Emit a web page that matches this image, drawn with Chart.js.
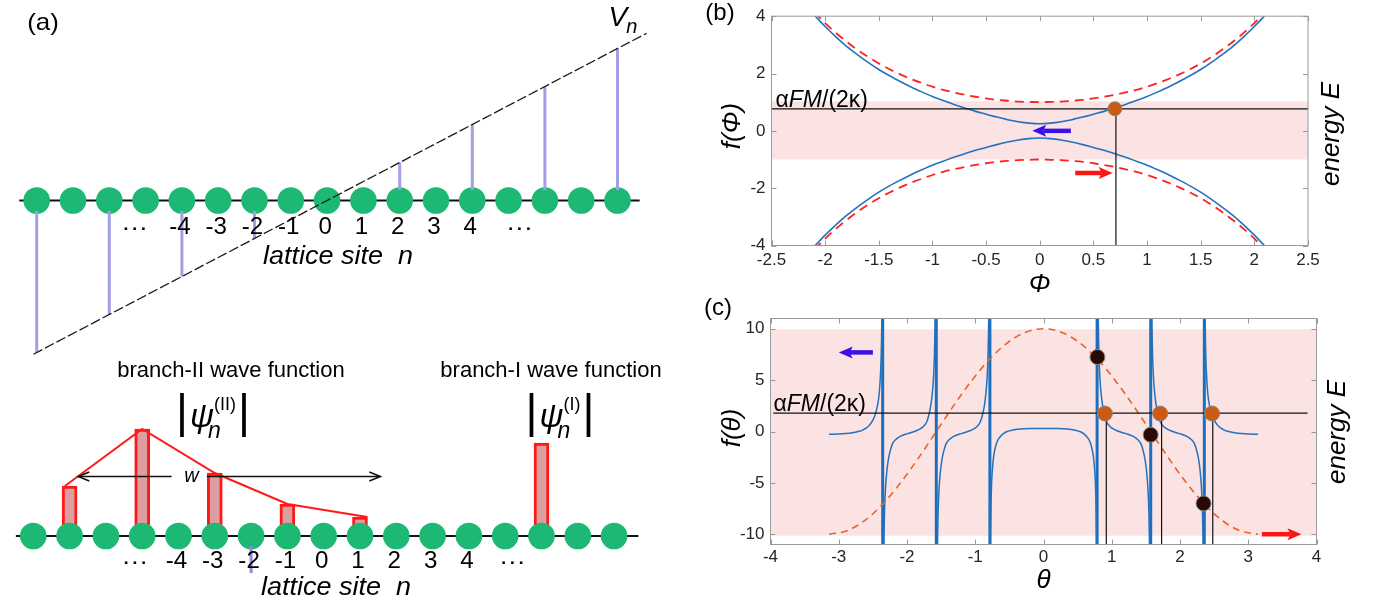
<!DOCTYPE html>
<html>
<head>
<meta charset="utf-8">
<script src="https://cdn.jsdelivr.net/npm/chart.js@4.4.1/dist/chart.umd.min.js"></script>
<style>
  html, body { margin:0; padding:0; background:#ffffff; }
  body { width:1376px; height:606px; position:relative; overflow:hidden; }
  canvas { position:absolute; }
</style>
</head>
<body>
<canvas id="chartA1" width="690" height="362" style="left:0px;top:0px;"></canvas>
<canvas id="chartA2" width="690" height="256" style="left:0px;top:350px;"></canvas>
<canvas id="chartB" width="676" height="300" style="left:700px;top:0px;"></canvas>
<canvas id="chartC" width="676" height="316" style="left:700px;top:290px;"></canvas>
<script>
// ================= DATA =================
// ---- panel (a): lattice, potential, wave functions ----
const latticeSites = [-8,-7,-6,-5,-4,-3,-2,-1,0,1,2,3,4,5,6,7,8];
const siteLabelValues = [-4,-3,-2,-1,0,1,2,3,4];
const siteLabels = ['-4','-3','-2','-1','0','1','2','3','4'];
const ellipsisSitesTop = [-5.3, 5.3];
const ellipsisSitesBottom = [-5.2, 5.2];
const potentialSites = [-8,-6,-4,-2,2,4,6,8];
const potentialValues = [-8,-6,-4,-2,2,4,6,8];
const potentialLineSites = [-8.09, 8.8];
const potentialLineValues = [-8.09, 8.8];
const rowSpanTop = [-8.48, 8.61];
const rowSpanBottom = [-8.48, 8.67];
const branch2Sites = [-7,-5,-3,-1,1];
const branch2Amplitude = [0.50,1.07,0.63,0.32,0.19];
const branch1Sites = [6];
const branch1Amplitude = [0.93];
const envelopeSites = [-7.13,-5,-3,-1,1.2];
const envelopeAmplitude = [0.50,1.07,0.63,0.32,0.19];
const widthArrowSites = [-6.76, -4.19, -3.22, 1.56];
const widthArrowLevel = 0.595;
const widthLabelSite = -3.64;
const strayStemSite = [-2];
const strayStemRange = [-0.10, -0.37];
const vLabelSite = 8.15;

// ---- panel (b) ----
const phiGrid = [-2.1,-2.0,-1.9,-1.8,-1.7,-1.6,-1.5,-1.4,-1.3,-1.2,-1.1,-1.0,-0.9,-0.8,-0.7,-0.6,-0.5,-0.4,-0.3,-0.2,-0.1,0,0.1,0.2,0.3,0.4,0.5,0.6,0.7,0.8,0.9,1.0,1.1,1.2,1.3,1.4,1.5,1.6,1.7,1.8,1.9,2.0,2.1];
const fBlueUpper = [4.03,3.64,3.28,2.95,2.66,2.39,2.14,1.92,1.72,1.53,1.36,1.20,1.06,0.92,0.80,0.68,0.58,0.48,0.39,0.32,0.27,0.25,0.27,0.32,0.39,0.48,0.58,0.68,0.80,0.92,1.06,1.20,1.36,1.53,1.72,1.92,2.14,2.39,2.66,2.95,3.28,3.64,4.03];
const fBlueLower = [-4.03,-3.64,-3.28,-2.95,-2.66,-2.39,-2.14,-1.92,-1.72,-1.53,-1.36,-1.20,-1.06,-0.92,-0.80,-0.68,-0.58,-0.48,-0.39,-0.32,-0.27,-0.25,-0.27,-0.32,-0.39,-0.48,-0.58,-0.68,-0.80,-0.92,-1.06,-1.20,-1.36,-1.53,-1.72,-1.92,-2.14,-2.39,-2.66,-2.95,-3.28,-3.64,-4.03];
const fRedUpper = [4.14,3.76,3.42,3.11,2.83,2.58,2.35,2.15,1.97,1.81,1.67,1.54,1.43,1.34,1.26,1.19,1.13,1.08,1.05,1.02,1.01,1.00,1.01,1.02,1.05,1.08,1.13,1.19,1.26,1.34,1.43,1.54,1.67,1.81,1.97,2.15,2.35,2.58,2.83,3.11,3.42,3.76,4.14];
const fRedLower = [-4.14,-3.76,-3.42,-3.11,-2.83,-2.58,-2.35,-2.15,-1.97,-1.81,-1.67,-1.54,-1.43,-1.34,-1.26,-1.19,-1.13,-1.08,-1.05,-1.02,-1.01,-1.00,-1.01,-1.02,-1.05,-1.08,-1.13,-1.19,-1.26,-1.34,-1.43,-1.54,-1.67,-1.81,-1.97,-2.15,-2.35,-2.58,-2.83,-3.11,-3.42,-3.76,-4.14];
const phiTicks = [-2.5,-2,-1.5,-1,-0.5,0,0.5,1,1.5,2,2.5];
const fPhiTicks = [-4,-2,0,2,4];
const phiRange = [-2.5, 2.5];
const fPhiRange = [-4, 4];
const bandB = [-1.0, 1.03];
const levelB = 0.77;
const crossingPhi = [0.70];
const crossingF = [0.77];
const dropPhiB = 0.71;
const arrowsB = [ {x0:0.29, y0:0, x1:-0.07, y1:0}, {x0:0.33, y0:-1.47, x1:0.68, y1:-1.47} ];

// ---- panel (c) ----
const thetaDashed = [-3.1416,-2.8798,-2.618,-2.3562,-2.0944,-1.8326,-1.5708,-1.309,-1.0472,-0.7854,-0.5236,-0.2618,0,0.2618,0.5236,0.7854,1.0472,1.309,1.5708,1.8326,2.0944,2.3562,2.618,2.8798,3.1416];
const fDashed = [-10,-9.66,-8.66,-7.07,-5.0,-2.59,0,2.59,5.0,7.07,8.66,9.66,10,9.66,8.66,7.07,5.0,2.59,0,-2.59,-5.0,-7.07,-8.66,-9.66,-10];
const poleTheta = [-2.3562,-1.5708,-0.7854,0.7854,1.5708,2.3562];
const segAtheta = [-3.1416,-3.0,-2.9,-2.8,-2.7,-2.65,-2.6,-2.55,-2.5,-2.46,-2.43,-2.41,-2.395,-2.38,-2.37,-2.363,-2.359];
const segAf = [-0.27,-0.25,-0.2,-0.12,0.02,0.14,0.32,0.62,1.1,1.78,2.6,3.5,4.8,7,10.5,17,30];
const segBtheta = [-2.3525,-2.3465,-2.3385,-2.3285,-2.3135,-2.2935,-2.2735,-2.2535,-2.2135,-2.1635,-2.1135,-2.0635,-2.0135,-1.9635,-1.9135,-1.8635,-1.8135,-1.7635,-1.7135,-1.6735,-1.6535,-1.6335,-1.6135,-1.5985,-1.5885,-1.5805,-1.5745];
const segBf = [-30.15,-17.15,-11.15,-7.65,-5.35,-3.75,-2.75,-2.08,-1.2,-0.77,-0.53,-0.37,-0.25,-0.15,-0.05,0.07,0.23,0.47,0.9,1.78,2.45,3.45,5.05,7.35,10.85,16.85,29.85];
const segCtheta = [-1.5671,-1.5611,-1.5531,-1.5431,-1.5281,-1.5081,-1.4881,-1.4681,-1.4281,-1.3781,-1.3281,-1.2781,-1.2281,-1.1781,-1.1281,-1.0781,-1.0281,-0.9781,-0.9281,-0.8881,-0.8681,-0.8481,-0.8281,-0.8131,-0.8031,-0.7951,-0.7891];
const segCf = [-30.15,-17.15,-11.15,-7.65,-5.35,-3.75,-2.75,-2.08,-1.2,-0.77,-0.53,-0.37,-0.25,-0.15,-0.05,0.07,0.23,0.47,0.9,1.78,2.45,3.45,5.05,7.35,10.85,16.85,29.85];
const segDtheta = [-0.7835,-0.780,-0.775,-0.765,-0.75,-0.73,-0.70,-0.67,-0.62,-0.55,-0.45,-0.35,-0.2,0,0.2,0.35,0.45,0.55,0.62,0.67,0.70,0.73,0.75,0.765,0.775,0.780,0.7835];
const segDf = [-30,-16,-10,-6,-3.8,-2.4,-1.4,-0.85,-0.4,-0.05,0.15,0.24,0.29,0.3,0.29,0.24,0.15,-0.05,-0.4,-0.85,-1.4,-2.4,-3.8,-6,-10,-16,-30];
const segEtheta = [0.7891,0.7951,0.8031,0.8131,0.8281,0.8481,0.8681,0.8881,0.9281,0.9781,1.0281,1.0781,1.1281,1.1781,1.2281,1.2781,1.3281,1.3781,1.4281,1.4681,1.4881,1.5081,1.5281,1.5431,1.5531,1.5611,1.5671];
const segEf = [29.85,16.85,10.85,7.35,5.05,3.45,2.45,1.78,0.9,0.47,0.23,0.07,-0.05,-0.15,-0.25,-0.37,-0.53,-0.77,-1.2,-2.08,-2.75,-3.75,-5.35,-7.65,-11.15,-17.15,-30.15];
const segFtheta = [1.5745,1.5805,1.5885,1.5985,1.6135,1.6335,1.6535,1.6735,1.7135,1.7635,1.8135,1.8635,1.9135,1.9635,2.0135,2.0635,2.1135,2.1635,2.2135,2.2535,2.2735,2.2935,2.3135,2.3285,2.3385,2.3465,2.3525];
const segFf = [29.85,16.85,10.85,7.35,5.05,3.45,2.45,1.78,0.9,0.47,0.23,0.07,-0.05,-0.15,-0.25,-0.37,-0.53,-0.77,-1.2,-2.08,-2.75,-3.75,-5.35,-7.65,-11.15,-17.15,-30.15];
const segGtheta = [2.359,2.363,2.37,2.38,2.395,2.41,2.43,2.46,2.5,2.55,2.6,2.65,2.7,2.8,2.9,3.0,3.1416];
const segGf = [30,17,10.5,7,4.8,3.5,2.6,1.78,1.1,0.62,0.32,0.14,0.02,-0.12,-0.2,-0.25,-0.27];
const thetaTicks = [-4,-3,-2,-1,0,1,2,3,4];
const fThetaTicks = [-10,-5,0,5,10];
const thetaRange = [-4, 4];
const fThetaRange = [-11, 11];
const bandC = [-10.15, 9.95];
const levelC = 1.78;
const levelCSpan = [-3.96, 3.87];
const crossTheta = [0.90, 1.71, 2.47];
const crossF = [1.75, 1.75, 1.75];
const dropTheta = [0.92, 1.73, 2.48];
const resonanceTheta = [0.79, 1.57, 2.345];
const resonanceF = [7.25, -0.32, -7.0];
const arrowsC = [ {x0:-2.5, y0:7.7, x1:-3.0, y1:7.7}, {x0:3.2, y0:-10, x1:3.78, y1:-10} ];

// ================= HELPERS =================
const FONT = "'Liberation Sans', Arial, Helvetica, sans-serif";
Chart.defaults.font.family = FONT;
Chart.defaults.animation = false;
Chart.defaults.events = [];
Chart.defaults.plugins.legend.display = false;
Chart.defaults.plugins.tooltip.enabled = false;

const pts = (xs, ys) => xs.map((x, i) => ({x, y: ys[i]}));

function txt(ctx, s, x, y, o = {}) {
  ctx.save();
  ctx.font = (o.italic ? 'italic ' : '') + (o.size || 20) + 'px ' + FONT;
  ctx.fillStyle = o.color || '#000';
  ctx.textAlign = o.align || 'center';
  ctx.textBaseline = o.baseline || 'middle';
  ctx.translate(x, y);
  if (o.rotate) ctx.rotate(o.rotate);
  if (o.sx) ctx.scale(o.sx, 1);
  ctx.fillText(s, 0, 0);
  ctx.restore();
}

function rich(ctx, parts, x, y, align) {
  ctx.save();
  ctx.textBaseline = 'alphabetic';
  ctx.textAlign = 'left';
  let cx = 0, pend = -Infinity;
  const items = [];
  for (const p of parts) {
    ctx.font = (p.italic ? 'italic ' : '') + p.size + 'px ' + FONT;
    const w = ctx.measureText(p.t).width;
    const px = cx + (p.dx || 0);
    items.push({p, x: px});
    if (p.stack) { pend = Math.max(pend, px + w); }
    else { cx = Math.max(px + w, pend); pend = -Infinity; }
  }
  const x0 = align === 'center' ? x - cx / 2 : (align === 'right' ? x - cx : x);
  for (const it of items) {
    ctx.font = (it.p.italic ? 'italic ' : '') + it.p.size + 'px ' + FONT;
    ctx.fillStyle = it.p.color || '#000';
    ctx.fillText(it.p.t, x0 + it.x, y + (it.p.dy || 0));
  }
  ctx.restore();
}

function solidArrow(ctx, x0, y0, x1, y1, color, lw, headLen, headHalf) {
  const a = Math.atan2(y1 - y0, x1 - x0);
  const c = Math.cos(a), s = Math.sin(a);
  const bx = x1 - headLen * c, by = y1 - headLen * s;
  ctx.save();
  ctx.strokeStyle = color; ctx.fillStyle = color; ctx.lineWidth = lw; ctx.lineCap = 'butt';
  ctx.beginPath(); ctx.moveTo(x0, y0); ctx.lineTo(bx + 3 * c, by + 3 * s); ctx.stroke();
  ctx.beginPath();
  ctx.moveTo(x1, y1);
  ctx.lineTo(bx - headHalf * s, by + headHalf * c);
  ctx.lineTo(bx + 3 * c, by + 3 * s);
  ctx.lineTo(bx + headHalf * s, by - headHalf * c);
  ctx.closePath(); ctx.fill();
  ctx.restore();
}

function openHead(ctx, x, y, dir) {
  ctx.beginPath();
  ctx.moveTo(x - dir * 11, y - 4.5);
  ctx.lineTo(x, y);
  ctx.lineTo(x - dir * 11, y + 4.5);
  ctx.stroke();
}

const framePlugin = {
  id: 'frame',
  afterDatasetsDraw(chart) {
    const {ctx, chartArea: a, scales: {x, y}} = chart;
    ctx.save();
    ctx.strokeStyle = '#9a9a9a';
    ctx.lineWidth = 1;
    ctx.strokeRect(a.left, a.top, a.right - a.left, a.bottom - a.top);
    const L = 5;
    ctx.beginPath();
    x.ticks.forEach(t => {
      const px = Math.round(x.getPixelForValue(t.value)) + 0.5;
      ctx.moveTo(px, a.bottom); ctx.lineTo(px, a.bottom - L);
      ctx.moveTo(px, a.top); ctx.lineTo(px, a.top + L);
    });
    y.ticks.forEach(t => {
      const py = Math.round(y.getPixelForValue(t.value)) + 0.5;
      ctx.moveTo(a.left, py); ctx.lineTo(a.left + L, py);
      ctx.moveTo(a.right, py); ctx.lineTo(a.right - L, py);
    });
    ctx.stroke();
    ctx.restore();
  }
};

function axisOpts(range, ticks, fit, pad) {
  return {
    type: 'linear', min: range[0], max: range[1],
    grid: {display: false, drawTicks: false, tickLength: 0}, border: {display: false},
    ticks: {font: {size: 17}, color: '#262626', padding: pad, autoSkip: false, maxRotation: 0,
            callback: v => String(v)},
    afterBuildTicks: s => { s.ticks = ticks.map(v => ({value: v})); },
    afterFit: fit
  };
}

const lineDs = (data, color, width, order, extra = {}) => Object.assign({
  data, showLine: true, borderColor: color, borderWidth: width, pointRadius: 0,
  pointHoverRadius: 0, fill: false, order
}, extra);

// ================= PANEL (a) top =================
const stemStart = 0.55;
const stemPoints = [];
potentialSites.forEach((n, i) => {
  const v = potentialValues[i];
  stemPoints.push({x: n, y: Math.sign(v) * stemStart}, {x: n, y: v}, {x: n, y: null});
});

new Chart(document.getElementById('chartA1'), {
  type: 'scatter',
  data: {datasets: [
    lineDs(pts(potentialLineSites, potentialLineValues), '#1a1a1a', 1.3, 0, {borderDash: [10, 3]}),
    lineDs(stemPoints, '#a29fe6', 3, 1, {spanGaps: false}),
    {data: latticeSites.map(n => ({x: n, y: 0})), pointRadius: 13.3, pointHoverRadius: 13.3,
     pointBackgroundColor: '#1db874', pointBorderWidth: 0, showLine: false, order: 2},
    lineDs(pts(rowSpanTop, [0, 0]), '#111111', 2, 3)
  ]},
  options: {
    responsive: false, devicePixelRatio: 1, layout: {padding: 0, autoPadding: false},
    scales: {x: {type: 'linear', display: false, min: -9.011, max: 9.997},
             y: {type: 'linear', display: false, min: -8.5, max: 10.553}}
  },
  plugins: [{
    id: 'labelsA1',
    afterDraw(chart) {
      const {ctx, scales: {x, y}} = chart;
      const base = y.getPixelForValue(0);
      txt(ctx, '(a)', 43, 23, {size: 24, sx: 1.08});
      siteLabelValues.forEach((n, i) => txt(ctx, siteLabels[i], x.getPixelForValue(n) - 2, base + 27.5, {size: 23, sx: 1.05}));
      ellipsisSitesTop.forEach(n => txt(ctx, '\u00B7\u00B7\u00B7', x.getPixelForValue(n), base + 27.5, {size: 24, sx: 1.1}));
      txt(ctx, 'lattice site  n', 338, base + 56.5, {size: 25, italic: true, sx: 1.08});
      rich(ctx, [{t: 'V', size: 28, italic: true}, {t: 'n', size: 20, italic: true, dy: 7, dx: -1}],
           x.getPixelForValue(vLabelSite), 26, 'center');
    }
  }]
});

// ================= PANEL (a) bottom =================
new Chart(document.getElementById('chartA2'), {
  type: 'bar',
  data: {datasets: [
    {type: 'line', data: [{x: strayStemSite[0], y: strayStemRange[0]}, {x: strayStemSite[0], y: strayStemRange[1]}],
     borderColor: '#8f8be0', borderWidth: 3, pointRadius: 0, order: 0},
    {type: 'line', data: pts(envelopeSites, envelopeAmplitude), borderColor: '#ff1a1a', borderWidth: 2,
     pointRadius: 0, tension: 0, order: 1},
    {type: 'line', data: latticeSites.map(n => ({x: n, y: 0})), showLine: false, pointRadius: 13.3,
     pointHoverRadius: 13.3, pointBackgroundColor: '#1db874', pointBorderWidth: 0, order: 2},
    {type: 'bar', data: pts(branch2Sites, branch2Amplitude), backgroundColor: '#dc9e9e', borderColor: '#ff1a1a',
     borderWidth: 3, borderSkipped: false, barThickness: 15, grouped: false, order: 3},
    {type: 'bar', data: pts(branch1Sites, branch1Amplitude), backgroundColor: '#dc9e9e', borderColor: '#ff1a1a',
     borderWidth: 3, borderSkipped: false, barThickness: 15, grouped: false, order: 3},
    {type: 'line', data: pts(rowSpanBottom, [0, 0]), borderColor: '#111111', borderWidth: 2, pointRadius: 0, order: 5}
  ]},
  options: {
    responsive: false, devicePixelRatio: 1, layout: {padding: 0, autoPadding: false},
    scales: {x: {type: 'linear', display: false, min: -8.917, max: 10.091, offset: false},
             y: {type: 'linear', display: false, min: -0.70, max: 1.86}}
  },
  plugins: [{
    id: 'labelsA2',
    afterDraw(chart) {
      const {ctx, scales: {x, y}} = chart;
      const base = y.getPixelForValue(0);
      const ay = y.getPixelForValue(widthArrowLevel);
      ctx.save();
      ctx.strokeStyle = '#111'; ctx.lineWidth = 1.6;
      ctx.beginPath();
      ctx.moveTo(x.getPixelForValue(widthArrowSites[0]), ay); ctx.lineTo(x.getPixelForValue(widthArrowSites[1]), ay);
      ctx.moveTo(x.getPixelForValue(widthArrowSites[2]), ay); ctx.lineTo(x.getPixelForValue(widthArrowSites[3]), ay);
      ctx.stroke();
      openHead(ctx, x.getPixelForValue(widthArrowSites[0]), ay, -1);
      openHead(ctx, x.getPixelForValue(widthArrowSites[3]), ay, 1);
      ctx.restore();
      txt(ctx, 'w', x.getPixelForValue(widthLabelSite), ay + 5, {size: 20, italic: true, baseline: 'alphabetic'});
      txt(ctx, 'branch-II wave function', 231, 21, {size: 22});
      txt(ctx, 'branch-I wave function', 551, 21, {size: 22});
      rich(ctx, [
        {t: '|', size: 46}, {t: '\u03C8', size: 33, italic: true, dx: 2},
        {t: 'n', size: 23, italic: true, dx: -6, dy: 11, stack: true},
        {t: '(II)', size: 18, dx: 0, dy: -17}, {t: '|', size: 46, dx: 2}
      ], 213, 77, 'center');
      rich(ctx, [
        {t: '|', size: 46}, {t: '\u03C8', size: 33, italic: true, dx: 2},
        {t: 'n', size: 23, italic: true, dx: -6, dy: 11, stack: true},
        {t: '(I)', size: 18, dx: 0, dy: -17}, {t: '|', size: 46, dx: 2}
      ], 560, 77, 'center');
      siteLabelValues.forEach((n, i) => txt(ctx, siteLabels[i], x.getPixelForValue(n) - 2, base + 26, {size: 23, sx: 1.05}));
      ellipsisSitesBottom.forEach(n => txt(ctx, '\u00B7\u00B7\u00B7', x.getPixelForValue(n), base + 26, {size: 24, sx: 1.1}));
      txt(ctx, 'lattice site  n', 336, base + 52, {size: 25, italic: true, sx: 1.08});
    }
  }]
});

// ================= PANEL (b) =================
new Chart(document.getElementById('chartB'), {
  type: 'scatter',
  data: {datasets: [
    {data: pts(crossingPhi, crossingF), pointRadius: 7, pointHoverRadius: 7, pointBackgroundColor: '#cc5a10',
     pointBorderColor: '#8a8a8a', pointBorderWidth: 1, showLine: false, order: 0},
    lineDs(pts(phiRange, [levelB, levelB]), '#111111', 1.2, 1),
    lineDs(pts([dropPhiB, dropPhiB], [levelB, fPhiRange[0]]), '#111111', 1.2, 1),
    lineDs(pts(phiGrid, fBlueUpper), '#2272bd', 1.6, 2, {cubicInterpolationMode: 'monotone'}),
    lineDs(pts(phiGrid, fBlueLower), '#2272bd', 1.6, 2, {cubicInterpolationMode: 'monotone'}),
    lineDs(pts(phiGrid, fRedUpper), '#ff2020', 1.8, 3, {borderDash: [9, 6], cubicInterpolationMode: 'monotone'}),
    lineDs(pts(phiGrid, fRedLower), '#ff2020', 1.8, 3, {borderDash: [9, 6], cubicInterpolationMode: 'monotone'}),
    lineDs(pts(phiRange, [bandB[1], bandB[1]]), 'rgba(0,0,0,0)', 0, 10, {fill: '+1', backgroundColor: '#fce3e3'}),
    lineDs(pts(phiRange, [bandB[0], bandB[0]]), 'rgba(0,0,0,0)', 0, 11)
  ]},
  options: {
    responsive: false, devicePixelRatio: 1,
    layout: {padding: {left: 0, right: 68, top: 11.5, bottom: 0}, autoPadding: false},
    scales: {
      x: axisOpts(phiRange, phiTicks, s => { s.height = 54.5; }, 5),
      y: axisOpts(fPhiRange, fPhiTicks, s => { s.width = 71.5; }, 6)
    }
  },
  plugins: [framePlugin, {
    id: 'labelsB',
    afterDraw(chart) {
      const {ctx, chartArea: a, scales: {x, y}} = chart;
      arrowsB.forEach((ar, i) => solidArrow(ctx, x.getPixelForValue(ar.x0), y.getPixelForValue(ar.y0),
        x.getPixelForValue(ar.x1), y.getPixelForValue(ar.y1), i === 0 ? '#3a12e6' : '#ff1414', 4.5, 14, 6));
      rich(ctx, [{t: '\u03B1', size: 23}, {t: 'FM', size: 23, italic: true}, {t: '/(2\u03BA)', size: 23}],
           a.left + 4, y.getPixelForValue(levelB) - 2, 'left');
      txt(ctx, '(b)', 20, 13, {size: 24});
      txt(ctx, 'f(\u03A6)', 33, 126, {size: 26, italic: true, rotate: -Math.PI / 2});
      txt(ctx, '\u03A6', (a.left + a.right) / 2, 285, {size: 26, italic: true});
      txt(ctx, 'energy E', 632, 134, {size: 26, italic: true, rotate: -Math.PI / 2});
    }
  }]
});

// ================= PANEL (c) =================
const poleSegments = [];
poleTheta.forEach(t => poleSegments.push({x: t, y: fThetaRange[0]}, {x: t, y: fThetaRange[1]}, {x: t, y: null}));
const dropSegments = [];
dropTheta.forEach(t => dropSegments.push({x: t, y: levelC}, {x: t, y: fThetaRange[0]}, {x: t, y: null}));
const blueSeg = (xs, ys) => lineDs(pts(xs, ys), '#2272bd', 1.5, 3, {cubicInterpolationMode: 'monotone'});

new Chart(document.getElementById('chartC'), {
  type: 'scatter',
  data: {datasets: [
    {data: pts(crossTheta, crossF), pointRadius: 7.5, pointHoverRadius: 7.5, pointBackgroundColor: '#cc5a10',
     pointBorderColor: '#8a8a8a', pointBorderWidth: 1, showLine: false, order: 0},
    {data: pts(resonanceTheta, resonanceF), pointRadius: 7.5, pointHoverRadius: 7.5, pointBackgroundColor: '#2a0905',
     pointBorderColor: '#8a8a8a', pointBorderWidth: 1, showLine: false, order: 0},
    lineDs(pts(levelCSpan, [levelC, levelC]), '#111111', 1.2, 1),
    lineDs(dropSegments, '#111111', 1.2, 1, {spanGaps: false}),
    lineDs(pts(thetaDashed, fDashed), '#e8632a', 1.6, 2, {borderDash: [7, 5], cubicInterpolationMode: 'monotone'}),
    blueSeg(segAtheta, segAf), blueSeg(segBtheta, segBf), blueSeg(segCtheta, segCf), blueSeg(segDtheta, segDf),
    blueSeg(segEtheta, segEf), blueSeg(segFtheta, segFf), blueSeg(segGtheta, segGf),
    lineDs(poleSegments, '#1b6fbd', 3, 4, {spanGaps: false}),
    lineDs(pts(thetaRange, [bandC[1], bandC[1]]), 'rgba(0,0,0,0)', 0, 10, {fill: '+1', backgroundColor: '#fce3e3'}),
    lineDs(pts(thetaRange, [bandC[0], bandC[0]]), 'rgba(0,0,0,0)', 0, 11)
  ]},
  options: {
    responsive: false, devicePixelRatio: 1,
    layout: {padding: {left: 0, right: 59.5, top: 28.5, bottom: 0}, autoPadding: false},
    scales: {
      x: axisOpts(thetaRange, thetaTicks, s => { s.height = 61.5; }, 3),
      y: axisOpts(fThetaRange, fThetaTicks, s => { s.width = 70.5; }, 6)
    }
  },
  plugins: [framePlugin, {
    id: 'labelsC',
    afterDraw(chart) {
      const {ctx, chartArea: a, scales: {x, y}} = chart;
      arrowsC.forEach((ar, i) => solidArrow(ctx, x.getPixelForValue(ar.x0), y.getPixelForValue(ar.y0),
        x.getPixelForValue(ar.x1), y.getPixelForValue(ar.y1), i === 0 ? '#3a12e6' : '#ff1414', 4.5, 14, 6));
      rich(ctx, [{t: '\u03B1', size: 23}, {t: 'FM', size: 23, italic: true}, {t: '/(2\u03BA)', size: 23}],
           a.left + 3, y.getPixelForValue(levelC) - 2, 'left');
      txt(ctx, '(c)', 18, 18, {size: 24});
      txt(ctx, 'f(\u03B8)', 33, 138, {size: 26, italic: true, rotate: -Math.PI / 2});
      txt(ctx, '\u03B8', (a.left + a.right) / 2, 291, {size: 26, italic: true});
      txt(ctx, 'energy E', 638, 142, {size: 26, italic: true, rotate: -Math.PI / 2});
    }
  }]
});
</script>
</body>
</html>
